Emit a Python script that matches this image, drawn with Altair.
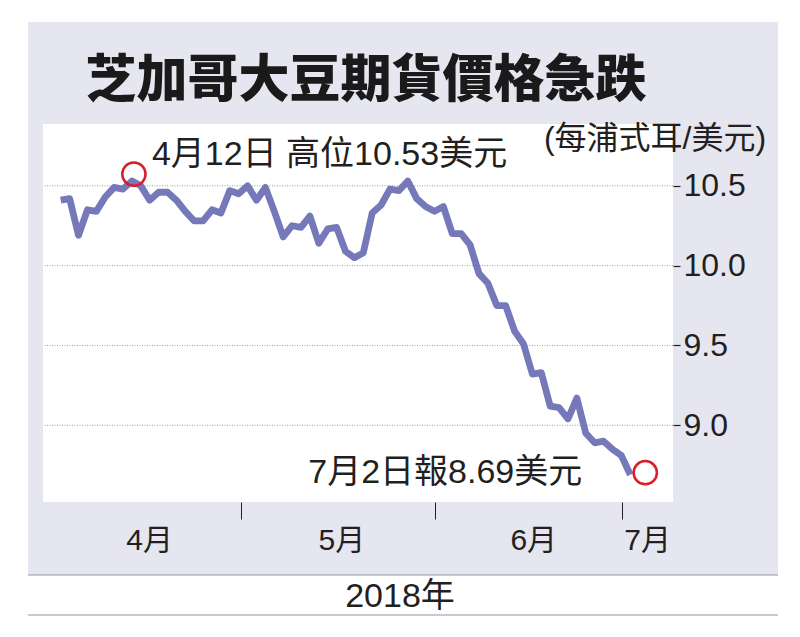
import altair as alt
import pandas as pd

# ---- data -------------------------------------------------------------
# CBOT soybean futures, daily closes (US$ per bushel),
# one value per trading day from 2018-04-02 to 2018-07-02
prices = [
    10.41, 10.42, 10.19, 10.35, 10.34, 10.43, 10.49, 10.48, 10.53, 10.50,
    10.41, 10.46, 10.46, 10.41, 10.34, 10.28, 10.28, 10.35, 10.33, 10.47,
    10.45, 10.50, 10.41, 10.49, 10.34, 10.18, 10.25, 10.24, 10.31, 10.14,
    10.23, 10.24, 10.09, 10.05, 10.08, 10.33, 10.38, 10.48, 10.47, 10.53,
    10.42, 10.37, 10.34, 10.37, 10.20, 10.20, 10.13, 9.95, 9.89, 9.75,
    9.75, 9.59, 9.51, 9.32, 9.33, 9.12, 9.11, 9.04, 9.17, 8.95,
    8.89, 8.90, 8.85, 8.81, 8.69,
]
trade_dates = [d.strftime("%Y-%m-%d") for d in pd.bdate_range("2018-04-02", "2018-07-02")
               if d.strftime("%Y-%m-%d") != "2018-05-28"]
month_tick_pos = [20.25, 42.03, 63.03]          # month boundaries (trading-day index)
month_labels = ["4月", "5月", "6月", "7月"]
month_label_pos = [10.0, 31.6, 53.15, 65.95]
y_ticks = [9.0, 9.5, 10.0, 10.5]
title_text = "芝加哥大豆期貨價格急跌"
unit_text = "(每浦式耳/美元)"
year_text = "2018年"
note_high = "4月12日 高位10.53美元"
note_last = "7月2日報8.69美元"
high_idx, high_val = 8, 10.53
last_idx, last_val = 64, 8.69

df = pd.DataFrame({"idx": list(range(len(prices))), "date": trade_dates, "price": prices})
grid_df = pd.DataFrame({"price": y_ticks})
months_df = pd.DataFrame({"idx": month_label_pos, "label": month_labels})
high_df = pd.DataFrame({"idx": [high_idx], "price": [high_val], "label": [note_high]})
last_df = pd.DataFrame({"idx": [last_idx], "price": [last_val], "label": [note_last]})

# ---- style ------------------------------------------------------------
W, H = 630, 378
LAV = "#e6e6f1"
LINE = "#7579b9"
RED = "#d81e2a"
INK = "#231f20"
LATIN = "Liberation Sans, Noto Sans CJK TC"

x_enc = alt.X("idx:Q",
              scale=alt.Scale(domain=[-1.99, 68.8], nice=False, zero=False),
              axis=alt.Axis(values=month_tick_pos, labels=False, tickSize=17,
                            tickColor=INK, tickWidth=1, domain=False, grid=False,
                            zindex=1),
              title=None)
y_enc = alt.Y("price:Q",
              scale=alt.Scale(domain=[8.519, 10.8875], nice=False, zero=False),
              axis=alt.Axis(orient="right", values=y_ticks, format=".1f",
                            tickSize=7, tickColor=INK, tickWidth=1.2,
                            labelPadding=3, labelFontSize=32, labelFont="Liberation Sans",
                            labelColor=INK, domain=False, grid=False, zindex=1),
              title=None)

one = pd.DataFrame({"a": [0]})

lavender = alt.Chart(one).mark_rect(color=LAV).encode(
    x=alt.value(-15), x2=alt.value(735), y=alt.value(-102), y2=alt.value(451))
plotbg = alt.Chart(one).mark_rect(color="white").encode(
    x=alt.value(0), x2=alt.value(W), y=alt.value(0), y2=alt.value(H))

grid = alt.Chart(grid_df).mark_rule(color="#9c9c9c", strokeWidth=1, strokeDash=[1, 1.5]).encode(
    y=y_enc)

line = alt.Chart(df).mark_line(color=LINE, strokeWidth=6.8, strokeJoin="round").encode(
    x=x_enc, y=y_enc)

circ_high = alt.Chart(high_df).mark_point(shape="circle", filled=False, size=540,
                                          color=RED, strokeWidth=2.5, opacity=1).encode(
    x=x_enc, y=y_enc, xOffset=alt.value(2), yOffset=alt.value(-7))
circ_last = alt.Chart(last_df).mark_point(shape="circle", filled=False, size=540,
                                          color=RED, strokeWidth=2.5, opacity=1).encode(
    x=x_enc, y=y_enc, xOffset=alt.value(15), yOffset=alt.value(-2))

txt_high = alt.Chart(high_df).mark_text(align="left", baseline="middle", dx=20, dy=-26,
                                        font=LATIN, fontSize=34, color=INK).encode(
    x=x_enc, y=y_enc, text="label:N")
txt_last = alt.Chart(last_df).mark_text(align="right", baseline="middle", dx=-48, dy=-2,
                                        font=LATIN, fontSize=34, color=INK).encode(
    x=x_enc, y=y_enc, text="label:N")

months = alt.Chart(months_df).mark_text(baseline="middle", font=LATIN, fontSize=30,
                                        color=INK).encode(
    x=x_enc, y=alt.value(417), text="label:N")

title = alt.Chart(pd.DataFrame({"t": [title_text]})).mark_text(
    baseline="middle", font="Noto Sans CJK TC", fontWeight=900, fontSize=51, color="#1a1a1a"
).encode(x=alt.value(323), y=alt.value(-42), text="t:N")

unit = alt.Chart(pd.DataFrame({"t": [unit_text]})).mark_text(
    baseline="middle", font=LATIN, fontSize=32, color=INK
).encode(x=alt.value(612), y=alt.value(15), text="t:N")

year = alt.Chart(pd.DataFrame({"t": [year_text]})).mark_text(
    baseline="middle", font=LATIN, fontSize=34, color=INK
).encode(x=alt.value(357), y=alt.value(473), text="t:N")

rules_df = pd.DataFrame({"a": [0]})
rule_top = alt.Chart(rules_df).mark_rule(color="#8f93ab", strokeWidth=1.2).encode(
    x=alt.value(-15), x2=alt.value(735), y=alt.value(451))
rule_bot = alt.Chart(rules_df).mark_rule(color="#8f93ab", strokeWidth=1.2).encode(
    x=alt.value(-15), x2=alt.value(735), y=alt.value(491))

chart = alt.layer(
    lavender, plotbg, grid, line, circ_high, circ_last, txt_high, txt_last,
    months, title, unit, year, rule_top, rule_bot
).properties(
    width=W, height=H,
    autosize=alt.AutoSizeParams(type="none"),
    padding={"left": 35, "top": 116, "right": 119, "bottom": 120},
    background="white",
).configure_view(strokeWidth=0)

chart.save("out.html", embed_options={"renderer": "svg", "actions": False})
